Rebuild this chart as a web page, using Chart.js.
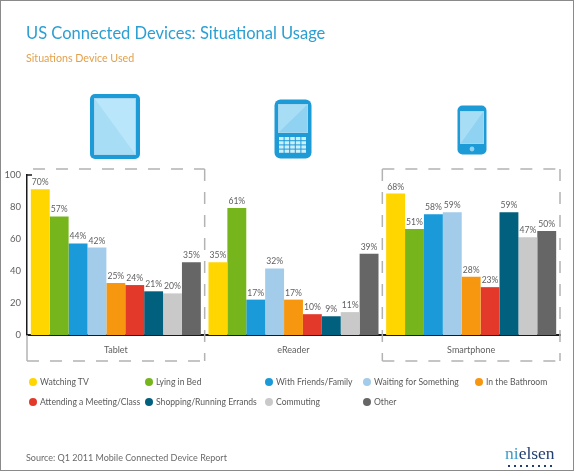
<!DOCTYPE html>
<html>
<head>
<meta charset="utf-8">
<script src="https://cdn.jsdelivr.net/npm/chart.js@4.4.1/dist/chart.umd.min.js"></script>
<style>
  html, body { margin: 0; padding: 0; background: #fff; }
  #page { position: relative; width: 574px; height: 471px; overflow: hidden; font-family: Lato, "Open Sans", sans-serif; }
  #chart { position: absolute; left: 0; top: 0; }
  #frame { position: absolute; left: 0; top: 0; width: 572px; height: 469px; border: 1px solid #8a8a8a; pointer-events: none; }
  .txt { position: absolute; white-space: nowrap; }
  #title { left: 26px; top: 23px; font-size: 16.5px; line-height: 20px; color: #2c9fd2; }
  #subtitle { left: 26px; top: 51px; font-size: 10.7px; line-height: 14px; color: #e3a04a; }
  #source { left: 26px; top: 451px; font-size: 9px; line-height: 14px; color: #6a6a6a; }
  #legend { position: absolute; left: 29px; top: 372px; display: grid;
            grid-template-columns: 116px 120px 98px 112px auto; grid-auto-rows: 20px; }
  .item { display: flex; align-items: center; font-size: 8.6px; color: #5a5a5a; white-space: nowrap; }
  .dot { width: 8px; height: 8px; border-radius: 50%; margin-right: 3px; flex: none; }
  .icon { position: absolute; }
  #logo { position: absolute; left: 505px; top: 444px; font-family: "Liberation Serif", "DejaVu Serif", serif; font-size: 17.5px; line-height: 18px; color: #233f70; }
  #logo span { color: #3b9cc9; }
  #logodots { position: absolute; left: 506px; top: 465px; width: 48px; height: 2px;
              background: radial-gradient(circle, #233f70 0.8px, transparent 1px) 0 0 / 6px 2px repeat-x; }
</style>
</head>
<body>
<div id="page">
  <canvas id="chart" width="574" height="471"></canvas>
  <div id="title" class="txt">US Connected Devices: Situational Usage</div>
  <div id="subtitle" class="txt">Situations Device Used</div>

  <svg class="icon" style="left:89px;top:93px" width="52" height="67" viewBox="0 0 52 67">
    <rect x="1" y="1" width="50" height="65" rx="5" fill="#1c9bd7"/>
    <rect x="5" y="5" width="42" height="57" fill="#ffffff" opacity="0.6"/>
    <rect x="6" y="6" width="40" height="55" fill="#a8ddf6"/>
    <polygon points="6,6 46,61 46,6" fill="#b9e6fa"/>
  </svg>

  <svg class="icon" style="left:274px;top:99px" width="38" height="60" viewBox="0 0 38 60">
    <rect x="0.5" y="0.5" width="37" height="59" rx="6" fill="#1c9bd7"/>
    <rect x="4" y="5" width="30" height="29" fill="#ffffff" opacity="0.6"/>
    <rect x="5" y="6" width="28" height="27" fill="#a8ddf6"/>
    <polygon points="5,33 33,6 33,33" fill="#8fd2f1"/>
    <g fill="#cdeefb">
      <rect x="5" y="38" width="4.6" height="3.2"/><rect x="10.6" y="38" width="4.6" height="3.2"/><rect x="16.2" y="38" width="4.6" height="3.2"/><rect x="21.8" y="38" width="4.6" height="3.2"/><rect x="27.4" y="38" width="4.6" height="3.2"/>
      <rect x="5" y="42.2" width="4.6" height="3.2"/><rect x="10.6" y="42.2" width="4.6" height="3.2"/><rect x="16.2" y="42.2" width="4.6" height="3.2"/><rect x="21.8" y="42.2" width="4.6" height="3.2"/><rect x="27.4" y="42.2" width="4.6" height="3.2"/>
      <rect x="5" y="46.4" width="4.6" height="3.2"/><rect x="10.6" y="46.4" width="4.6" height="3.2"/><rect x="16.2" y="46.4" width="4.6" height="3.2"/><rect x="21.8" y="46.4" width="4.6" height="3.2"/><rect x="27.4" y="46.4" width="4.6" height="3.2"/>
      <rect x="5" y="50.6" width="4.6" height="3.2"/><rect x="10.6" y="50.6" width="4.6" height="3.2"/><rect x="16.2" y="50.6" width="4.6" height="3.2"/><rect x="21.8" y="50.6" width="4.6" height="3.2"/><rect x="27.4" y="50.6" width="4.6" height="3.2"/>
    </g>
  </svg>

  <svg class="icon" style="left:457px;top:105px" width="30" height="50" viewBox="0 0 30 50">
    <rect x="0.5" y="0.5" width="29" height="49" rx="5" fill="#1c9bd7"/>
    <rect x="3" y="6" width="24" height="33" fill="#ffffff" opacity="0.6"/>
    <rect x="4" y="7" width="22" height="31" fill="#a8ddf6"/>
    <polygon points="4,38 26,7 26,38" fill="#8fd2f1"/>
    <circle cx="15" cy="44" r="2.4" fill="#8fd2f1"/>
  </svg>

  <div id="legend"></div>
  <div id="source" class="txt">Source: Q1 2011 Mobile Connected Device Report</div>
  <div id="logo"><span>ni</span>elsen</div>
  <div id="logodots"></div>
  <div id="frame"></div>
</div>

<script>
// devices on the x axis
const devices = ['Tablet', 'eReader', 'Smartphone'];

// situations (one bar series each)
const situations = [
  'Watching TV', 'Lying in Bed', 'With Friends/Family', 'Waiting for Something',
  'In the Bathroom', 'Attending a Meeting/Class', 'Shopping/Running Errands',
  'Commuting', 'Other'
];
const situationColors = [
  '#ffd600', '#76b51b', '#1a9ad8', '#a3cbea', '#f7960f',
  '#e2392b', '#00607d', '#c9c9c9', '#666666'
];

// percent of owners, per device, in situation order
const tabletPct     = [70, 57, 44, 42, 25, 24, 21, 20, 35];
const eReaderPct    = [35, 61, 17, 32, 17, 10,  9, 11, 39];
const smartphonePct = [68, 51, 58, 59, 28, 23, 59, 47, 50];

// the printed y ticks; "100" sits where a bar of about 77% would end
const yTickLabels = ['0', '20', '40', '60', '80', '100'];
const yTickTopPct = 76.9;

const textGray = '#5f5f5f';

// legend, built from the same lists
const legendEl = document.getElementById('legend');
situations.forEach((name, i) => {
  const item = document.createElement('div');
  item.className = 'item';
  item.innerHTML = '<span class="dot" style="background:' + situationColors[i] + '"></span>' + name;
  legendEl.appendChild(item);
});

const byDevice = [tabletPct, eReaderPct, smartphonePct];
const datasets = situations.map((name, i) => ({
  label: name,
  data: byDevice.map(arr => arr[i]),
  backgroundColor: situationColors[i],
  borderWidth: 0,
  barPercentage: 1.0,
  categoryPercentage: 0.957
}));

// percent labels over every bar
const valueLabels = {
  id: 'valueLabels',
  afterDatasetsDraw(chart) {
    const ctx = chart.ctx;
    ctx.save();
    ctx.fillStyle = textGray;
    ctx.font = '8.6px Lato, sans-serif';
    ctx.textAlign = 'center';
    ctx.textBaseline = 'bottom';
    chart.data.datasets.forEach((ds, di) => {
      chart.getDatasetMeta(di).data.forEach((bar, j) => {
        ctx.fillText(ds.data[j] + '%', bar.x, bar.y - 2.5);
      });
    });
    ctx.restore();
  }
};

// dashed boxes round Tablet and Smartphone
const deviceBoxes = {
  id: 'deviceBoxes',
  beforeDatasetsDraw(chart) {
    const { ctx, chartArea, scales } = chart;
    const x = scales.x;
    const half = (x.getPixelForValue(1) - x.getPixelForValue(0)) / 2;
    const top = chartArea.top - 6;
    const axisY = chartArea.bottom;
    const bottom = chartArea.bottom + 26;
    const tL = chartArea.left, tR = x.getPixelForValue(0) + half;
    const sL = x.getPixelForValue(2) - half, sR = chartArea.right;

    ctx.save();
    ctx.strokeStyle = '#b3b3b3';
    ctx.lineWidth = 1.5;
    ctx.setLineDash([12, 11]);
    const line = (x1, y1, x2, y2) => { ctx.beginPath(); ctx.moveTo(x1, y1); ctx.lineTo(x2, y2); ctx.stroke(); };
    // tablet
    line(tL + 6, top, tR, top);
    line(tR, top, tR, bottom);
    line(tL, bottom, tR, bottom);
    // smartphone
    line(sL, top, sR, top);
    line(sL, top, sL, bottom);
    line(sR, top, sR, bottom);
    line(sL, bottom, sR, bottom);
    ctx.setLineDash([]);
    line(tL, axisY, tL, bottom);
    // small cap at the top of the y axis
    ctx.strokeStyle = '#1a1a1a';
    ctx.lineWidth = 1.5;
    line(tL - 1, chartArea.top, tL + 5, chartArea.top);
    ctx.restore();
  }
};

new Chart(document.getElementById('chart').getContext('2d'), {
  type: 'bar',
  data: { labels: devices, datasets: datasets },
  options: {
    responsive: false,
    animation: false,
    layout: { padding: { left: 0, right: 14, top: 175, bottom: 106 } },
    plugins: { legend: { display: false }, tooltip: { enabled: false } },
    scales: {
      x: {
        offset: true,
        grid: { display: false, drawTicks: false },
        border: { color: '#1a1a1a', width: 2 },
        ticks: { color: textGray, font: { family: 'Lato', size: 9 }, padding: 10 },
        afterFit(scale) { scale.height = 30; }
      },
      y: {
        min: 0,
        max: yTickTopPct,
        afterBuildTicks(scale) {
          const n = yTickLabels.length - 1;
          scale.ticks = yTickLabels.map((t, i) => ({ value: i * yTickTopPct / n }));
        },
        grid: { display: false, drawTicks: false },
        border: { color: '#1a1a1a', width: 1.5 },
        ticks: {
          color: textGray,
          font: { family: 'Lato', size: 9.5 },
          padding: 6,
          callback: (v, i) => yTickLabels[i]
        },
        afterFit(scale) { scale.width = 27; }
      }
    }
  },
  plugins: [deviceBoxes, valueLabels]
});
</script>
</body>
</html>
